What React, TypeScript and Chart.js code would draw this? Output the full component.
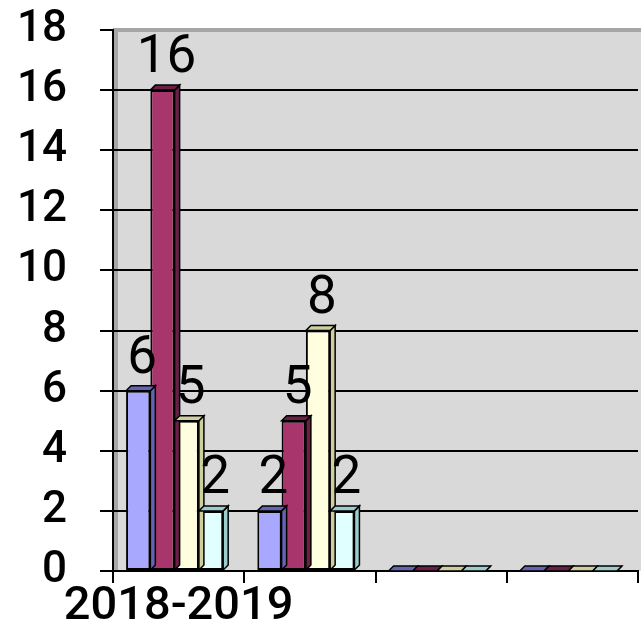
import React, { useEffect, useRef } from "react";
import { Chart, registerables } from "chart.js";

Chart.register(...registerables);

const categories = ["2018-2019", "", "", ""];
const seriesA = [6, 2, 0, 0];
const seriesB = [16, 5, 0, 0];
const seriesC = [5, 8, 0, 0];
const seriesD = [2, 2, 0, 0];
const yMin = 0;
const yMax = 18;
const yStep = 2;

const faceColors = ["#A8A8FF", "#A8356B", "#FFFFE0", "#E0FFFF"];
const sideColors = ["#6464B0", "#6A1F44", "#CFCF9E", "#9CCCCC"];

const FONT = "Roboto, 'Noto Sans', sans-serif";
const DEPTH = 5;
const SHIFT = -4;

const bgPlugin = {
  id: "bg3d",
  beforeDraw(chart: any) {
    const { ctx, chartArea } = chart;
    const { left, top, bottom } = chartArea;
    ctx.save();
    ctx.fillStyle = "#D9D9D9";
    ctx.fillRect(left, top, chart.width - left, bottom - top);
    ctx.fillStyle = "#A6A6A6";
    ctx.fillRect(left, top - 2, chart.width - left, 4);
    ctx.fillRect(left, top, 5, bottom - top);
    ctx.restore();
  },
};

const bar3dPlugin = {
  id: "bar3d",
  beforeDatasetsDraw(chart: any) {
    chart.ctx.save();
    chart.ctx.translate(SHIFT, 0);
  },
  afterDatasetsDraw(chart: any) {
    const { ctx } = chart;
    chart.data.datasets.forEach((ds: any, di: number) => {
      const meta = chart.getDatasetMeta(di);
      meta.data.forEach((el: any, i: number) => {
        const { x, y, base, width } = el.getProps(["x", "y", "base", "width"], true);
        const l = x - width / 2;
        const r = x + width / 2;
        const t = Math.min(y, base);
        const b = Math.max(y, base);
        ctx.fillStyle = sideColors[di];
        ctx.strokeStyle = "#000";
        ctx.lineWidth = 1.5;
        ctx.beginPath();
        ctx.moveTo(r, t);
        ctx.lineTo(r + DEPTH, t - DEPTH);
        ctx.lineTo(r + DEPTH, b - DEPTH);
        ctx.lineTo(r, b);
        ctx.closePath();
        ctx.fill();
        ctx.stroke();
        ctx.beginPath();
        ctx.moveTo(l, t);
        ctx.lineTo(l + DEPTH, t - DEPTH);
        ctx.lineTo(r + DEPTH, t - DEPTH);
        ctx.lineTo(r, t);
        ctx.closePath();
        ctx.fill();
        ctx.stroke();
        const v = ds.data[i];
        if (v) {
          ctx.fillStyle = "#000";
          ctx.font = `400 53px ${FONT}`;
          ctx.textAlign = "center";
          ctx.textBaseline = "alphabetic";
          ctx.fillText(String(v), x + 4, t - 18);
        }
      });
    });
    ctx.restore();
  },
};

export default function App() {
  const ref = useRef<HTMLCanvasElement | null>(null);
  useEffect(() => {
    if (!ref.current) return;
    const mk = (label: string, data: number[], i: number) => ({
      label,
      data,
      backgroundColor: faceColors[i],
      borderColor: "#000",
      borderWidth: 2,
      borderSkipped: false,
      categoryPercentage: 0.74,
      barPercentage: 1.0,
    });
    const chart = new Chart(ref.current, {
      type: "bar",
      data: {
        labels: categories,
        datasets: [
          mk("A", seriesA, 0),
          mk("B", seriesB, 1),
          mk("C", seriesC, 2),
          mk("D", seriesD, 3),
        ],
      },
      options: {
        animation: false,
        responsive: false,
        events: [],
        layout: { padding: { top: 0, right: 3, left: 0, bottom: 0 } },
        plugins: { legend: { display: false }, tooltip: { enabled: false } },
        scales: {
          x: {
            grid: {
              display: true,
              drawOnChartArea: false,
              drawTicks: true,
              tickLength: 12,
              color: "#000",
              lineWidth: 2,
            },
            border: { display: true, color: "#000", width: 2 },
            ticks: {
              color: "#000",
              font: { family: FONT, size: 47, weight: "500" },
              padding: -4,
              maxRotation: 0,
              autoSkip: false,
            },
            afterFit(scale: any) {
              scale.height = 59;
            },
          },
          y: {
            min: yMin,
            max: yMax,
            grid: {
              color: (c: any) => (c.tick && c.tick.value === yMax ? "rgba(0,0,0,0)" : "#000"),
              lineWidth: 2,
              tickLength: 13,
              tickColor: "#000",
            },
            border: { display: true, color: "#000", width: 2 },
            ticks: {
              stepSize: yStep,
              color: "#000",
              font: { family: FONT, size: 44, weight: "500" },
              padding: 33,
            },
            afterFit(scale: any) {
              scale.width = 113;
              scale.paddingTop = 30;
              scale.paddingBottom = 0;
            },
          },
        },
      },
      plugins: [bgPlugin, bar3dPlugin],
    } as any);
    return () => chart.destroy();
  }, []);
  return (
    <div style={{ position: "fixed", left: 0, top: 0, width: 641, height: 630, background: "#fff" }}>
      <canvas ref={ref} width={641} height={630} style={{ width: 641, height: 630, display: "block" }} />
    </div>
  );
}
